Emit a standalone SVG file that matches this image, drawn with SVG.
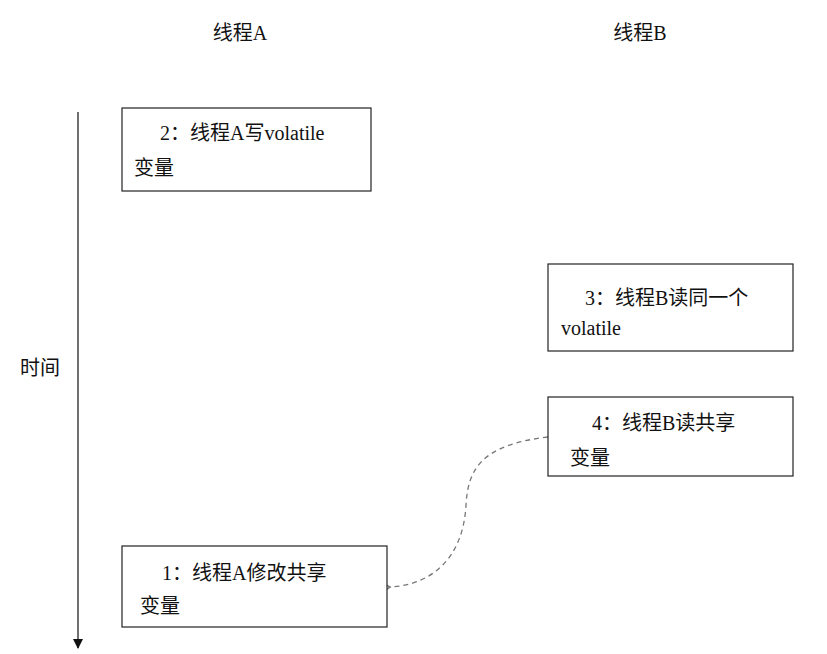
<svg xmlns="http://www.w3.org/2000/svg" width="827" height="654" viewBox="0 0 827 654">
<style>
text{font-family:"Liberation Serif","Noto Sans CJK SC",serif;font-size:20px;fill:#111}
.box{fill:#fff;stroke:#222;stroke-width:1.2}
</style>
<defs>
<marker id="ah" markerWidth="10" markerHeight="10" refX="9" refY="5" orient="auto" markerUnits="userSpaceOnUse"><path d="M0,0 L10,5 L0,10 z" fill="#111"/></marker>
<marker id="ag" markerWidth="12" markerHeight="12" refX="2" refY="6" orient="auto" markerUnits="userSpaceOnUse"><path d="M10,1 L2,6 L10,11" fill="none" stroke="#777" stroke-width="1.5"/></marker>
</defs>
<rect width="827" height="654" fill="#fff"/>
<text x="240" y="40" text-anchor="middle">线程A</text>
<text x="640" y="40" text-anchor="middle">线程B</text>
<text x="20" y="375">时间</text>
<g id="connectors">
<line x1="78" y1="112" x2="78" y2="648" stroke="#111" stroke-width="1.2" marker-end="url(#ah)"/>
<path d="M548,437 C480,445 468,470 466,505 C463,560 430,585 390,587" fill="none" stroke="#777" stroke-width="1.3" stroke-dasharray="5,4" marker-end="url(#ag)"/>
</g>
<g id="n2"><rect class="box" x="122" y="108" width="249" height="83"/><text x="160" y="140">2：线程A写volatile</text><text x="134" y="175">变量</text></g>
<g id="n3"><rect class="box" x="548" y="264" width="245" height="87"/><text x="585" y="305">3：线程B读同一个</text><text x="561" y="335">volatile</text></g>
<g id="n4"><rect class="box" x="548" y="397" width="245" height="79"/><text x="592" y="430">4：线程B读共享</text><text x="570" y="465">变量</text></g>
<g id="n1"><rect class="box" x="122" y="546" width="265" height="81"/><text x="162" y="580">1：线程A修改共享</text><text x="140" y="613">变量</text></g>
</svg>
